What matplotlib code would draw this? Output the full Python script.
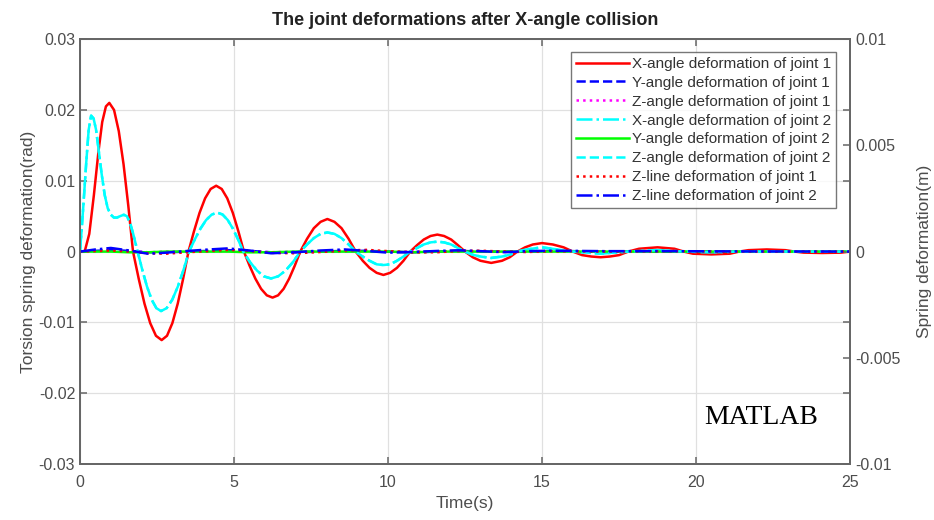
import numpy as np
import matplotlib.pyplot as plt

# X-angle deformation of joint 1 (rad)
t_x1 = [0, 0.15, 0.3, 0.45, 0.6, 0.72, 0.84, 0.95,
        1.104, 1.258, 1.412, 1.566, 1.72,
        1.906, 2.092, 2.278, 2.464, 2.65, 2.824, 2.998, 3.172, 3.346, 3.52,
        3.70, 3.88, 4.06, 4.24, 4.42, 4.60, 4.78, 4.96, 5.14, 5.32,
        5.506, 5.692, 5.878, 6.064, 6.25, 6.43, 6.61, 6.79, 6.97, 7.15,
        7.37, 7.59, 7.81, 8.03, 8.26, 8.49, 8.72, 8.95,
        9.18, 9.4, 9.63, 9.85, 10.07, 10.29, 10.5, 10.72,
        10.94, 11.16, 11.38, 11.6, 11.82, 12.05, 12.27, 12.5,
        12.75, 13.0, 13.35, 13.7, 13.95, 14.2,
        14.45, 14.7, 15.0, 15.35, 15.7, 16.0,
        16.3, 16.6, 16.9, 17.2, 17.5, 17.8,
        18.15, 18.75, 19.3, 19.6,
        19.9, 20.5, 21.1, 21.4,
        21.7, 22.3, 22.9, 23.2,
        23.5, 24.1, 24.7, 25.0]
x_joint1 = [0, 0, 0.0025, 0.008, 0.0142, 0.0183, 0.0205, 0.021,
            0.020, 0.017, 0.01235, 0.0065, 0,
            -0.00386, -0.00735, -0.0101, -0.01189, -0.0125, -0.01189, -0.0101, -0.00735, -0.00386, 0,
            0.00287, 0.00547, 0.00752, 0.00884, 0.0093, 0.00884, 0.00752, 0.00547, 0.00287, 0,
            -0.00201, -0.00382, -0.00526, -0.00618, -0.0065, -0.00618, -0.00526, -0.00382, -0.00201, 0,
            0.0018, 0.0033, 0.0042, 0.0046, 0.0042, 0.0033, 0.0018, 0,
            -0.0013, -0.0023, -0.003, -0.0033, -0.003, -0.0023, -0.0013, 0,
            0.0009, 0.0017, 0.0022, 0.0024, 0.0022, 0.0017, 0.0009, 0,
            -0.0008, -0.0013, -0.0016, -0.0013, -0.0008, 0,
            0.0006, 0.001, 0.0012, 0.001, 0.0006, 0,
            -0.0005, -0.0007, -0.0008, -0.0007, -0.0005, 0,
            0.0004, 0.0006, 0.0004, 0,
            -0.0003, -0.0004, -0.0003, 0,
            0.0002, 0.0003, 0.0002, 0,
            -0.00015, -0.0002, -0.00015, 0]

# X- and Z-angle deformation of joint 2 (rad)
t_x2 = [0, 0.1, 0.2, 0.28, 0.36, 0.44, 0.52, 0.6, 0.7, 0.8, 0.9, 1.0,
        1.1, 1.2, 1.3, 1.42, 1.52, 1.62, 1.72, 1.8, 1.87,
        2.022, 2.174, 2.326, 2.478, 2.63, 2.812, 2.994, 3.176, 3.358, 3.54,
        3.724, 3.908, 4.092, 4.276, 4.46, 4.628, 4.796, 4.964, 5.132, 5.3,
        5.52, 5.75, 5.97, 6.2, 6.43, 6.67, 6.91, 7.15,
        7.37, 7.59, 7.81, 8.03, 8.26, 8.49, 8.72, 8.95,
        9.18, 9.4, 9.63, 9.85, 10.07, 10.29, 10.5, 10.72,
        10.94, 11.16, 11.38, 11.6, 11.82, 12.05, 12.27, 12.5,
        12.75, 13.0, 13.35, 13.7, 13.95, 14.2,
        14.5, 15.0, 15.5, 16.0, 16.9, 17.8, 18.75, 19.6, 20.5, 21.4, 25.0]
x_joint2 = [0, 0.006, 0.0125, 0.0172, 0.0192, 0.0188, 0.0172, 0.0145, 0.011, 0.008, 0.0061, 0.0052,
            0.0048, 0.0048, 0.005, 0.0052, 0.005, 0.0041, 0.0026, 0.0012, 0,
            -0.0026, -0.00494, -0.0068, -0.00799, -0.0084, -0.00799, -0.0068, -0.00494, -0.0026, 0,
            0.0017, 0.00323, 0.00445, 0.00523, 0.0055, 0.00523, 0.00445, 0.00323, 0.0017, 0,
            -0.0015, -0.0027, -0.0035, -0.0038, -0.0035, -0.0027, -0.0015, 0,
            0.001, 0.0019, 0.0025, 0.0027, 0.0025, 0.0019, 0.001, 0,
            -0.0007, -0.0013, -0.0018, -0.0019, -0.0018, -0.0013, -0.0007, 0,
            0.0005, 0.001, 0.0013, 0.0014, 0.0013, 0.001, 0.0005, 0,
            -0.00045, -0.0007, -0.0009, -0.0007, -0.00045, 0,
            0.0003, 0.0006, 0.0003, 0, -0.0003, 0, 0.0002, 0, -0.0001, 0, 0]
z_joint2 = x_joint2

# small angle deformations (rad)
t_small = [0, 0.5, 1.0, 1.6, 2.2, 2.8, 3.5, 4.2, 4.8, 5.5, 6.2, 7.0, 7.8,
           8.6, 9.3, 10.0, 10.8, 11.6, 12.3, 13.0, 13.8, 14.5, 15.3, 17.0, 19.0, 21.0, 25.0]
y_joint1 = [0, 0.0001, 0.0002, 0.0001, -0.0001, -0.0001, 0, 0.0001, 0.0002, 0.0001, -0.0001, -0.0001, 0,
            0.0001, 0.0001, 0, -0.0001, 0, 0.0001, 0, 0, 0, 0.0001, 0, 0, 0, 0]
z_joint1 = [0, 0, 0.0001, 0, -0.0001, 0, 0, 0, 0.0001, 0, -0.0001, 0, 0,
            0, 0.0001, 0, 0, 0, 0, 0, 0, 0, 0, 0, 0, 0, 0]
y_joint2 = [0, 0, 0, -0.0001, -0.0001, 0, 0, 0, 0, -0.0001, -0.0001, 0, 0,
            0, 0, 0, -0.0001, 0, 0, 0, 0, 0, 0, 0, 0, 0, 0]

# line deformations (m), right axis
zl_joint1 = [0, 0.00003, 0.00005, 0, -0.00008, -0.0001, -0.00003, 0.00003, 0.00008, 0.00003, -0.00006, -0.00008, -0.00002,
             0.00005, 0.00008, 0.00002, -0.00004, -0.00003, 0.00003, 0.00004, 0, -0.00002, 0.00002, 0, 0.00002, 0, 0]
zl_joint2 = [0, 0.0001, 0.00017, 0.00005, -0.0001, -0.00005, 0.00003, 0.0001, 0.00015, 0.00005, -0.00008, -0.00003, 0.00005,
             0.0001, 0.00003, -0.00005, -0.00002, 0.00003, 0.00006, 0.00002, -0.00003, 0.00002, 0.00004, 0.00002, 0.00002, 0.00001, 0]

labels = ["X-angle deformation of joint 1", "Y-angle deformation of joint 1",
          "Z-angle deformation of joint 1", "X-angle deformation of joint 2",
          "Y-angle deformation of joint 2", "Z-angle deformation of joint 2",
          "Z-line deformation of joint 1", "Z-line deformation of joint 2"]

plt.rcParams['font.family'] = ['Liberation Sans', 'DejaVu Sans']
spine_c = '#666666'
text_c = '#4d4d4d'

fig = plt.figure(figsize=(9.34, 5.2), dpi=100)
ax = fig.add_axes([0.0857, 0.1077, 0.8244, 0.817])
ax2 = ax.twinx()

lw = 1.8
h = []
h += ax.plot(t_x1, x_joint1, '-', color='#ff0000', lw=lw)
h += ax.plot(t_small, y_joint1, '--', color='#0000ff', lw=lw)
h += ax.plot(t_small, z_joint1, ':', color='#ff00ff', lw=lw)
h += ax.plot(t_x2, x_joint2, '-.', color='#00ffff', lw=lw)
h += ax.plot(t_small, y_joint2, '-', color='#00ff00', lw=lw)
h += ax.plot(t_x2, z_joint2, '--', color='#00ffff', lw=lw)
h += ax2.plot(t_small, zl_joint1, ':', color='#ff0000', lw=lw)
h += ax2.plot(t_small, zl_joint2, '-.', color='#0000ff', lw=lw)

ax.set_xlim(0, 25)
ax.set_ylim(-0.03, 0.03)
ax2.set_ylim(-0.01, 0.01)
ax.set_xticks([0, 5, 10, 15, 20, 25])
ax.set_yticks([-0.03, -0.02, -0.01, 0, 0.01, 0.02, 0.03])
ax.set_yticklabels(['-0.03', '-0.02', '-0.01', '0', '0.01', '0.02', '0.03'])
ax2.set_yticks([-0.01, -0.005, 0, 0.005, 0.01])
ax2.set_yticklabels(['-0.01', '-0.005', '0', '0.005', '0.01'])
ax.grid(True, color='#e0e0e0', lw=0.9)

for a in (ax, ax2):
    for s in a.spines.values():
        s.set_color(spine_c)
        s.set_linewidth(1.3)
    a.tick_params(direction='in', length=5, width=1.1, colors=spine_c,
                  labelcolor=text_c, labelsize=11.5)
ax.tick_params(axis='x', top=True, pad=8)
ax.tick_params(axis='y', right=True)

ax.set_xlabel('Time(s)', fontsize=12.5, color=text_c, labelpad=4)
ax.set_ylabel('Torsion spring deformation(rad)', fontsize=12.5, color=text_c, labelpad=2)
ax2.set_ylabel('Spring deformation(m)', fontsize=12.5, color=text_c, labelpad=12)
ax.set_title('The joint deformations after X-angle collision', fontsize=13,
             fontweight='bold', color='#222222', pad=10)

leg = ax2.legend(h, labels, loc='upper right', bbox_to_anchor=(0.982, 0.969),
                 fontsize=11, frameon=True, fancybox=False, handlelength=3.5,
                 borderpad=0.3, labelspacing=0.32, handletextpad=0.2,
                 borderaxespad=0)
leg.get_frame().set_edgecolor('#555555')
leg.get_frame().set_linewidth(1.0)
for txt in leg.get_texts():
    txt.set_color('#333333')

ax2.text(0.885, 0.11, 'MATLAB', transform=ax2.transAxes, ha='center', va='center',
         fontsize=20, family='Liberation Serif', color='black')

fig.savefig('out.png', dpi=100)
